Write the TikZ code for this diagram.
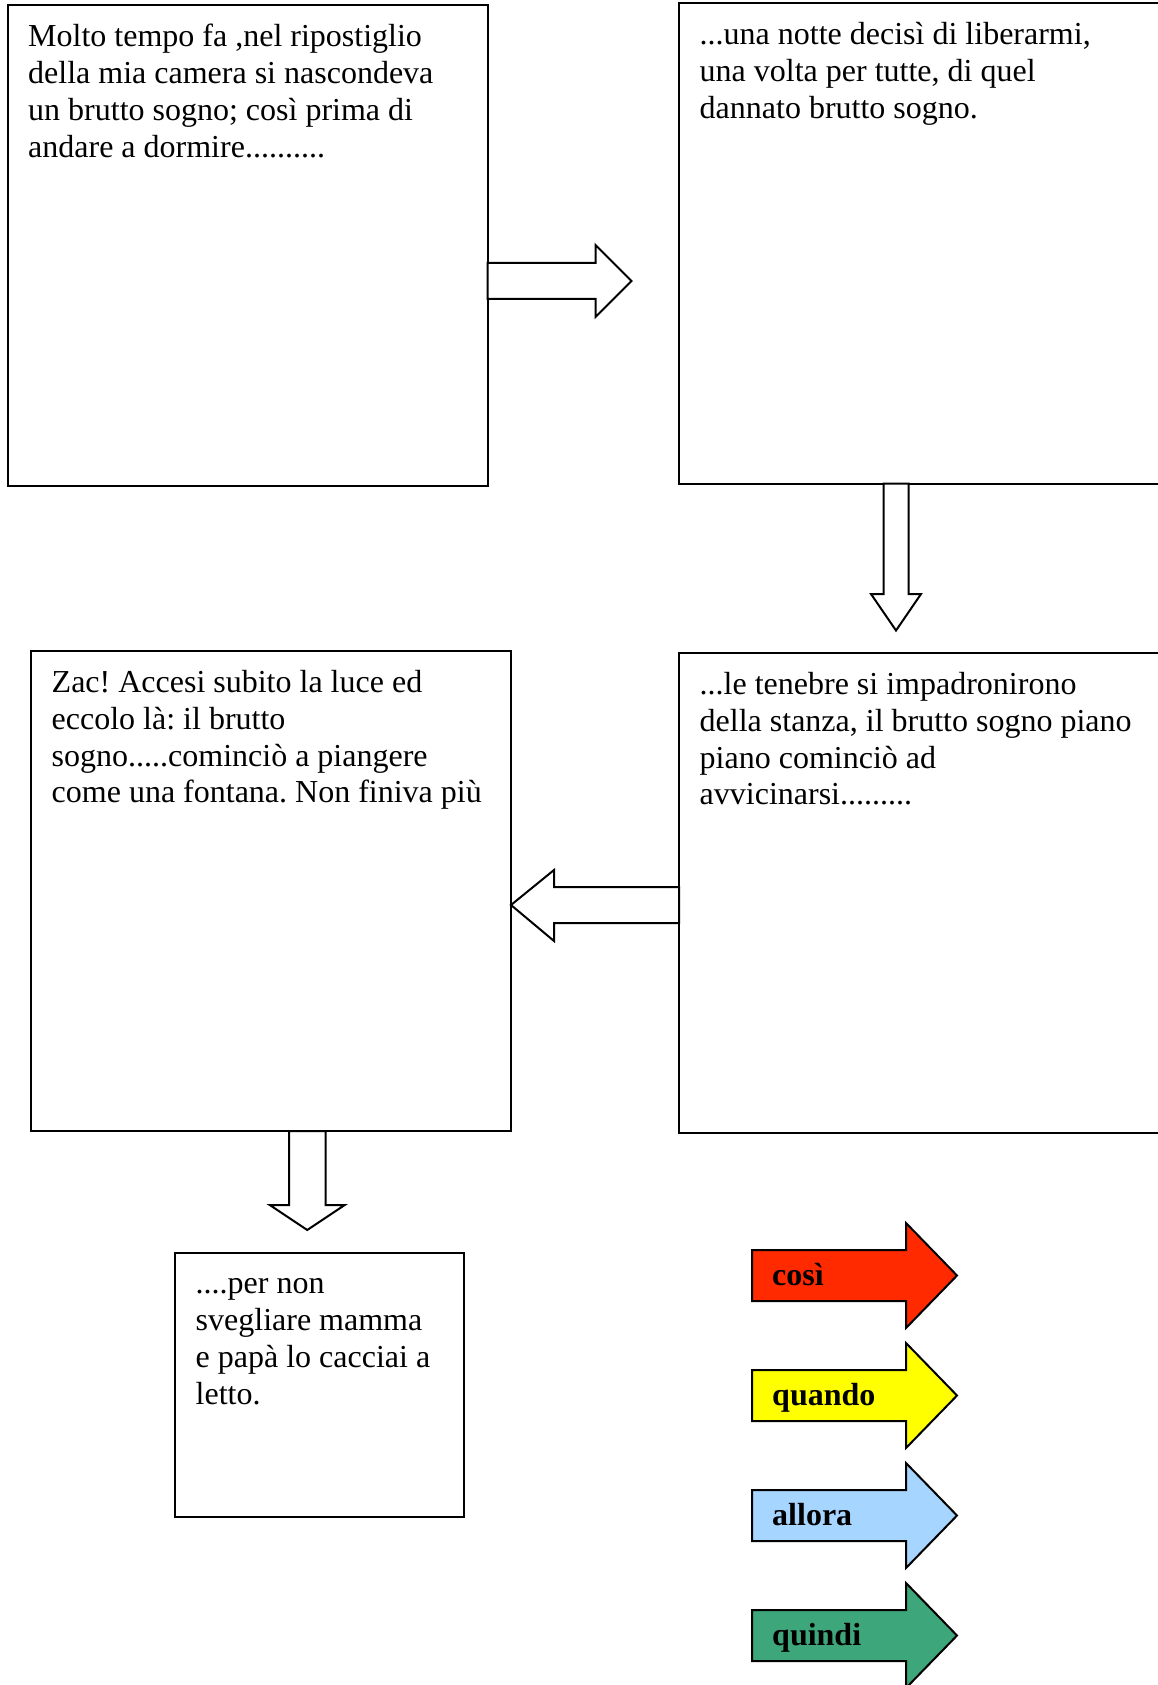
\documentclass[tikz,border=0pt]{standalone}
\usepackage{fontspec}
\setmainfont{Liberation Serif}
\usetikzlibrary{calc}
\definecolor{arrred}{HTML}{FF2A00}
\definecolor{arryellow}{HTML}{FFFF00}
\definecolor{arrblue}{HTML}{A6D5FF}
\definecolor{arrgreen}{HTML}{3DA67A}
\frenchspacing
\begin{document}
\begin{tikzpicture}[x=1pt,y=-1pt,
  storybox/.style={draw, line width=2pt, inner sep=0pt, outer sep=0pt, anchor=north west,
                   minimum width=480pt, minimum height=480pt},
  storytext/.style={anchor=north west, inner sep=0pt, align=left,
                    font=\fontsize{32}{36.8}\selectfont\frenchspacing},
  hollow/.style={draw, line width=2pt, fill=white, line join=miter},
  colarrow/.style={draw, line width=2pt, line join=miter},
  linklabel/.style={anchor=base west, inner sep=0pt, font=\fontsize{32}{36.8}\selectfont\bfseries}
]
\useasboundingbox (0,0) rectangle (1158,1685);
\clip (0,0) rectangle (1158,1685);

% story boxes
\node[storybox] (b1) at (7.5,5.5) {};
\node[storybox] (b2) at (679,3.5) {};
\node[storybox] (b3) at (31,651) {};
\node[storybox] (b4) at (679,653) {};
\node[storybox, minimum width=288.5pt, minimum height=264pt] (b5) at (175,1252.5) {};

% texts
\node[storytext] (t1) at ([shift={(20.5,15.5)}]b1.north west)
  {\strut Molto tempo fa ,nel ripostiglio\\della mia camera si nascondeva\\un brutto sogno; così prima di\\andare a dormire..........};
\node[storytext] (t2) at ([shift={(20.5,15.5)}]b2.north west)
  {\strut ...una notte decisì di liberarmi,\\una volta per tutte, di quel\\dannato brutto sogno.};
\node[storytext] (t3) at ([shift={(20.5,15.5)}]b3.north west)
  {\strut Zac! Accesi subito la luce ed\\eccolo là: il brutto\\sogno.....cominciò a piangere\\come una fontana. Non finiva più};
\node[storytext] (t4) at ([shift={(20.5,15.5)}]b4.north west)
  {\strut ...le tenebre si impadronirono\\della stanza, il brutto sogno piano\\piano cominciò ad\\avvicinarsi.........};
\node[storytext] (t5) at ([shift={(20.5,15.5)}]b5.north west)
  {\strut ....per non\\svegliare mamma\\e papà lo cacciai a\\letto.};

% hollow block arrows between boxes
\draw[hollow] (b1.east |- 0,263) -- ++(108,0) -- ++(0,-18) -- ++(36,36) -- ++(-36,36)
  -- ++(0,-18) -- ++(-108,0) -- cycle;
\draw[hollow] (b2.south -| 883.5,0) -- ++(0,110.5) -- ++(-12.5,0) -- ++(25,36.5)
  -- ++(25,-36.5) -- ++(-12.5,0) -- ++(0,-110.5) -- cycle;
\draw[hollow] (b4.west |- 0,887) -- ++(-125,0) -- ++(0,-17) -- ++(-43,35) -- ++(43,36)
  -- ++(0,-18) -- ++(125,0) -- cycle;
\draw[hollow] (b3.south -| 289,0) -- ++(0,74) -- ++(-19.25,0) -- ++(37.5,25)
  -- ++(37.5,-25) -- ++(-19.25,0) -- ++(0,-74) -- cycle;

% coloured connective arrows
\foreach \yc/\col/\lab [count=\i] in {1275.5/arrred/così, 1395.5/arryellow/quando,
                                       1515.5/arrblue/allora, 1635.5/arrgreen/quindi} {
  \draw[colarrow, fill=\col] (752,\yc-25.5) -- ++(154,0) -- ++(0,-27) -- ++(51,52.5)
    -- ++(-51,52.5) -- ++(0,-27) -- ++(-154,0) -- cycle;
  \node[linklabel] (lab\i) at (772,\yc+10) {\lab};
}
\end{tikzpicture}
\end{document}
